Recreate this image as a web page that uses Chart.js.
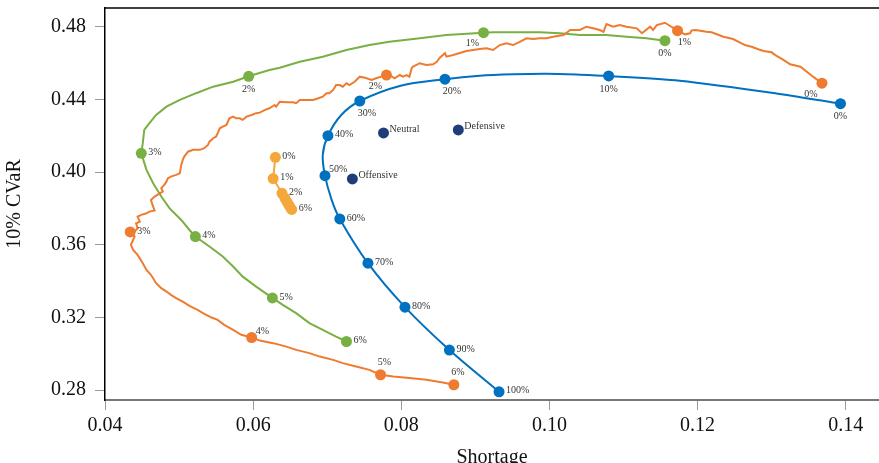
<!DOCTYPE html>
<html>
<head>
<meta charset="utf-8">
<script src="https://cdn.jsdelivr.net/npm/chart.js@4/dist/chart.umd.min.js"></script>
<style>
    html, body { margin: 0; padding: 0; background: #fff; overflow: hidden; }
</style>
</head>
<body>
<canvas id="meuGrafico" width="879" height="463"></canvas>
<script>
// Marcas dos eixos
var ticksX = [0.04, 0.06, 0.08, 0.10, 0.12, 0.14];
var ticksY = [0.28, 0.32, 0.36, 0.40, 0.44, 0.48];

// Curva azul (fronteira) - linha completa e pontos rotulados
var azulLinhaX = [0.1393, 0.1311, 0.1176, 0.1080, 0.1041, 0.0996, 0.0951, 0.0906, 0.0859, 0.0798, 0.0744,
    0.0719, 0.0701, 0.0694, 0.0697, 0.0706, 0.0717, 0.0755, 0.0805, 0.0865, 0.0932];
var azulLinhaY = [0.4376, 0.4430, 0.4503, 0.4529, 0.4536, 0.4541, 0.4538, 0.4530, 0.4511, 0.4474, 0.4391,
    0.4314, 0.4200, 0.4094, 0.3980, 0.3847, 0.3742, 0.3498, 0.3256, 0.3020, 0.2790];
var azulPontosX = [0.1393, 0.1080, 0.0859, 0.0744, 0.0701, 0.0697, 0.0717, 0.0755, 0.0805, 0.0865, 0.0932];
var azulPontosY = [0.4376, 0.4529, 0.4511, 0.4391, 0.4200, 0.3980, 0.3742, 0.3498, 0.3256, 0.3020, 0.2790];
var azulRotulos = ['0%', '10%', '20%', '30%', '40%', '50%', '60%', '70%', '80%', '90%', '100%'];

// Curva laranja (irregular)
var laranjaLinhaX = [
    0.1368, 0.1356, 0.1339, 0.1325, 0.1316, 0.1305, 0.1300, 0.1289, 0.1282, 0.1273, 0.1264, 0.1248, 0.1235, 0.1219, 0.1212, 0.1206, 0.1197, 0.1192, 0.1190, 0.1183,
    0.1173, 0.1163, 0.1156, 0.1145, 0.1140, 0.1136, 0.1125, 0.1118, 0.1104, 0.1095, 0.1086, 0.1077, 0.1073, 0.1068, 0.1059, 0.1050, 0.1041, 0.1028, 0.1025, 0.1019,
    0.1005, 0.0996, 0.0987, 0.0978, 0.0969, 0.0960, 0.0951, 0.0942, 0.0933, 0.0924, 0.0915, 0.0906, 0.0897, 0.0888, 0.0870, 0.0861, 0.0859, 0.0852, 0.0848, 0.0843,
    0.0834, 0.0825, 0.0816, 0.0814, 0.0811, 0.0807, 0.0802, 0.0798, 0.0791, 0.0784, 0.0780, 0.0773, 0.0766, 0.0760, 0.0751, 0.0744, 0.0737, 0.0730, 0.0726, 0.0721,
    0.0717, 0.0712, 0.0708, 0.0703, 0.0699, 0.0694, 0.0688, 0.0681, 0.0672, 0.0663, 0.0658, 0.0654, 0.0645, 0.0636, 0.0631, 0.0629, 0.0622, 0.0616, 0.0609, 0.0604,
    0.0598, 0.0591, 0.0586, 0.0582, 0.0577, 0.0573, 0.0568, 0.0564, 0.0559, 0.0555, 0.0552, 0.0550, 0.0546, 0.0541, 0.0539, 0.0534, 0.0528, 0.0519, 0.0512, 0.0507,
    0.0505, 0.0503, 0.0501, 0.0496, 0.0489, 0.0485, 0.0483, 0.0480, 0.0476, 0.0478, 0.0474, 0.0467, 0.0462, 0.0465, 0.0467, 0.0460, 0.0456, 0.0449, 0.0444, 0.0447,
    0.0442, 0.0444, 0.0440, 0.0434, 0.0440, 0.0435, 0.0438, 0.0444, 0.0451, 0.0456, 0.0462, 0.0469, 0.0476, 0.0483, 0.0489, 0.0496, 0.0505, 0.0514, 0.0525, 0.0534,
    0.0544, 0.0552, 0.0561, 0.0573, 0.0584, 0.0598, 0.0609, 0.0627, 0.0645, 0.0658, 0.0676, 0.0690, 0.0708, 0.0721, 0.0739, 0.0757, 0.0772, 0.0789, 0.0811, 0.0834,
    0.0856, 0.0871];
var laranjaLinhaY = [
    0.4489, 0.4525, 0.4580, 0.4593, 0.4617, 0.4644, 0.4659, 0.4666, 0.4676, 0.4690, 0.4699, 0.4732, 0.4745, 0.4769, 0.4772, 0.4776, 0.4782, 0.4780, 0.4764, 0.4758,
    0.4778, 0.4804, 0.4822, 0.4809, 0.4782, 0.4800, 0.4764, 0.4791, 0.4800, 0.4809, 0.4800, 0.4815, 0.4772, 0.4782, 0.4791, 0.4800, 0.4782, 0.4782, 0.4772, 0.4754,
    0.4745, 0.4736, 0.4736, 0.4732, 0.4736, 0.4717, 0.4699, 0.4709, 0.4699, 0.4672, 0.4681, 0.4677, 0.4672, 0.4666, 0.4644, 0.4635, 0.4654, 0.4629, 0.4607, 0.4593,
    0.4589, 0.4599, 0.4580, 0.4571, 0.4525, 0.4534, 0.4525, 0.4534, 0.4516, 0.4534, 0.4534, 0.4525, 0.4516, 0.4507, 0.4519, 0.4525, 0.4497, 0.4479, 0.4489, 0.4470,
    0.4479, 0.4479, 0.4452, 0.4434, 0.4434, 0.4415, 0.4406, 0.4397, 0.4397, 0.4397, 0.4379, 0.4384, 0.4384, 0.4387, 0.4360, 0.4369, 0.4351, 0.4342, 0.4327, 0.4324,
    0.4314, 0.4305, 0.4287, 0.4296, 0.4296, 0.4305, 0.4296, 0.4259, 0.4250, 0.4241, 0.4213, 0.4195, 0.4186, 0.4167, 0.4149, 0.4131, 0.4122, 0.4122, 0.4112, 0.4085,
    0.4067, 0.4039, 0.3993, 0.3984, 0.3975, 0.3966, 0.3947, 0.3929, 0.3911, 0.3892, 0.3883, 0.3865, 0.3846, 0.3810, 0.3788, 0.3782, 0.3773, 0.3764, 0.3755, 0.3727,
    0.3718, 0.3691, 0.3672, 0.3670, 0.3645, 0.3599, 0.3571, 0.3544, 0.3498, 0.3461, 0.3434, 0.3388, 0.3361, 0.3342, 0.3324, 0.3306, 0.3287, 0.3263, 0.3241, 0.3219,
    0.3199, 0.3186, 0.3159, 0.3131, 0.3104, 0.3089, 0.3072, 0.3058, 0.3039, 0.3021, 0.3003, 0.2984, 0.2966, 0.2948, 0.2929, 0.2911, 0.2884, 0.2874, 0.2866, 0.2856,
    0.2841, 0.2829];
var laranjaPontosX = [0.1368, 0.1173, 0.0780, 0.0434, 0.0598, 0.0772, 0.0871];
var laranjaPontosY = [0.4489, 0.4778, 0.4534, 0.3670, 0.3089, 0.2884, 0.2829];
var laranjaRotulos = ['0%', '1%', '2%', '3%', '4%', '5%', '6%'];

// Curva verde
var verdeLinhaX = [0.1156, 0.1131, 0.1104, 0.1077, 0.1041, 0.1014, 0.0987, 0.0951, 0.0924, 0.0911, 0.0861, 0.0825, 0.0784,
    0.0757, 0.0726, 0.0694, 0.0663, 0.0636, 0.0622, 0.0594, 0.0573, 0.0546, 0.0523, 0.0501, 0.0483, 0.0469, 0.0460,
    0.0453, 0.0451, 0.0449, 0.0456, 0.0465, 0.0476, 0.0487, 0.0503, 0.0514, 0.0522, 0.0541, 0.0559, 0.0573, 0.0586,
    0.0604, 0.0626, 0.0640, 0.0658, 0.0676, 0.0694, 0.0712, 0.0726];
var verdeLinhaY = [0.4723, 0.4736, 0.4745, 0.4754, 0.4754, 0.4764, 0.4769, 0.4769, 0.4769, 0.4767, 0.4754, 0.4736, 0.4717,
    0.4699, 0.4672, 0.4635, 0.4607, 0.4574, 0.4562, 0.4527, 0.4497, 0.4470, 0.4434, 0.4397, 0.4360, 0.4314, 0.4269,
    0.4232, 0.4159, 0.4103, 0.4012, 0.3938, 0.3865, 0.3801, 0.3736, 0.3681, 0.3645, 0.3590, 0.3535, 0.3480, 0.3424,
    0.3369, 0.3307, 0.3269, 0.3223, 0.3168, 0.3131, 0.3094, 0.3067];
var verdePontosX = [0.1156, 0.0911, 0.0594, 0.0449, 0.0522, 0.0626, 0.0726];
var verdePontosY = [0.4723, 0.4767, 0.4527, 0.4103, 0.3645, 0.3307, 0.3067];
var verdeRotulos = ['0%', '1%', '2%', '3%', '4%', '5%', '6%'];

// Pequena curva amarela
var amareloX = [0.0630, 0.0627, 0.0639, 0.0643, 0.0646, 0.0649, 0.0652];
var amareloY = [0.4081, 0.3964, 0.3883, 0.3855, 0.3833, 0.3813, 0.3794];
var amareloRotulos = ['0%', '1%', '2%', '', '', '', '6%'];

// Carteiras isoladas
var carteirasNomes = ['Neutral', 'Defensive', 'Offensive'];
var carteirasX = [0.0776, 0.0877, 0.0734];
var carteirasY = [0.4215, 0.4232, 0.3962];

// Posição dos rótulos: [dx, dy, alinhamento]
var posicoes = {
    b: [0, 13, 'center'],
    bd: [7, 12, 'center'],
    be: [-11, 11, 'center'],
    d: [7, -1, 'left'],
    ad: [4, -6, 'left'],
    a: [4, -12, 'center'],
    dn: [6, -4, 'left']
};
var ladosAzul = ['b', 'b', 'bd', 'bd', 'd', 'ad', 'd', 'd', 'd', 'd', 'd'];
var ladosLaranja = ['be', 'bd', 'be', 'd', 'ad', 'a', 'a'];
var ladosVerde = ['b', 'be', 'b', 'd', 'd', 'd', 'd'];
var ladosAmarelo = ['d', 'd', 'd', 'd', 'd', 'd', 'd'];
var ladosCarteiras = ['dn', 'dn', 'dn'];

// Junta arrays x e y em pontos
function juntar(xs, ys) {
    return xs.map(function(x, i) {
        return { x: x, y: ys[i] };
    });
}

// Plugin que escreve os rótulos ao lado dos pontos
var rotulosPlugin = {
    id: 'rotulos',
    afterDatasetsDraw: function(chart) {
        var ctx = chart.ctx;
        ctx.save();
        ctx.font = "10px 'Liberation Serif', 'Times New Roman', serif";
        ctx.fillStyle = '#333';
        ctx.textBaseline = 'middle';
        chart.data.datasets.forEach(function(ds, i) {
            if (!ds.rotulos) return;
            var meta = chart.getDatasetMeta(i);
            meta.data.forEach(function(pt, j) {
                var txt = ds.rotulos[j];
                if (!txt) return;
                var p = posicoes[ds.lados[j]];
                ctx.textAlign = p[2];
                ctx.fillText(txt, pt.x + p[0], pt.y + p[1]);
            });
        });
        ctx.restore();
    }
};

// Plugin para a borda superior da área do gráfico
var bordaPlugin = {
    id: 'borda',
    afterDraw: function(chart) {
        var a = chart.chartArea;
        var ctx = chart.ctx;
        ctx.save();
        ctx.strokeStyle = '#000';
        ctx.lineWidth = 1.5;
        ctx.beginPath();
        ctx.moveTo(a.left, a.top);
        ctx.lineTo(a.right, a.top);
        ctx.stroke();
        ctx.restore();
    }
};

Chart.defaults.font.family = "'Liberation Serif', 'Times New Roman', serif";

var corAzul = '#0070C0';
var corLaranja = '#EE7B30';
var corVerde = '#78B043';
var corAmarelo = '#F4A83C';
var corMarinho = '#1F3D7A';

function pontos(xs, ys, cor, rotulos, lados) {
    return {
        data: juntar(xs, ys),
        showLine: false,
        pointRadius: 5.5,
        pointBackgroundColor: cor,
        pointBorderWidth: 0,
        rotulos: rotulos,
        lados: lados
    };
}

function linha(xs, ys, cor, tensao) {
    return {
        data: juntar(xs, ys),
        showLine: true,
        borderColor: cor,
        borderWidth: 2,
        pointRadius: 0,
        tension: tensao
    };
}

var configuracao = {
    type: 'scatter',
    data: {
        datasets: [
            pontos(carteirasX, carteirasY, corMarinho, carteirasNomes, ladosCarteiras),
            pontos(amareloX, amareloY, corAmarelo, amareloRotulos, ladosAmarelo),
            pontos(azulPontosX, azulPontosY, corAzul, azulRotulos, ladosAzul),
            pontos(laranjaPontosX, laranjaPontosY, corLaranja, laranjaRotulos, ladosLaranja),
            pontos(verdePontosX, verdePontosY, corVerde, verdeRotulos, ladosVerde),
            linha(amareloX, amareloY, corAmarelo, 0),
            linha(azulLinhaX, azulLinhaY, corAzul, 0.3),
            linha(laranjaLinhaX, laranjaLinhaY, corLaranja, 0),
            linha(verdeLinhaX, verdeLinhaY, corVerde, 0)
        ]
    },
    options: {
        responsive: false,
        animation: false,
        layout: { autoPadding: false, padding: { top: 8, right: 0, bottom: 0, left: 0 } },
        plugins: {
            legend: { display: false },
            tooltip: { enabled: false }
        },
        scales: {
            x: {
                type: 'linear',
                min: 0.04,
                max: 0.1445,
                afterBuildTicks: function(s) {
                    s.ticks = ticksX.map(function(v) { return { value: v }; });
                },
                afterFit: function(s) {
                    s.height = 63;
                    s.paddingLeft = 0;
                    s.paddingRight = 0;
                },
                grid: { drawOnChartArea: false, drawTicks: true, tickLength: 10, color: '#999' },
                border: { color: '#777', width: 2 },
                ticks: {
                    font: { size: 20 },
                    color: '#111',
                    padding: 4,
                    maxRotation: 0,
                    callback: function(v) { return Number(v).toFixed(2); }
                },
                title: {
                    display: true,
                    text: 'Shortage',
                    font: { size: 20 },
                    color: '#111',
                    padding: { top: 0, bottom: -7 }
                }
            },
            y: {
                type: 'linear',
                min: 0.2745,
                max: 0.4903,
                afterBuildTicks: function(s) {
                    s.ticks = ticksY.map(function(v) { return { value: v }; });
                },
                afterFit: function(s) {
                    s.width = 105;
                    s.paddingTop = 0;
                    s.paddingBottom = 0;
                },
                grid: { drawOnChartArea: false, drawTicks: true, tickLength: 10, color: '#999' },
                border: { color: '#000', width: 1.5 },
                ticks: {
                    font: { size: 20 },
                    color: '#111',
                    padding: 9,
                    callback: function(v) { return Number(v).toFixed(2); }
                },
                title: {
                    display: true,
                    text: '10% CVaR',
                    font: { size: 20 },
                    color: '#111',
                    padding: { top: 3, bottom: 0 }
                }
            }
        }
    },
    plugins: [rotulosPlugin, bordaPlugin]
};

var meuGrafico = new Chart(document.getElementById('meuGrafico').getContext('2d'), configuracao);
</script>
</body>
</html>
